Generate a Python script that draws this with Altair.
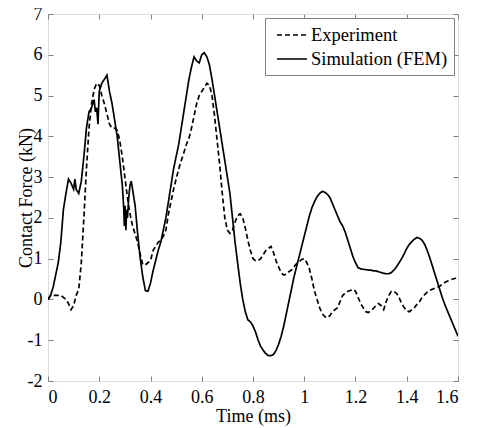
import altair as alt
import pandas as pd

# ---- data ----
sim_t = [0.00, 0.01, 0.02, 0.03, 0.04, 0.05, 0.06, 0.07, 0.08, 0.09, 0.10, 0.105, 0.11, 0.12, 0.13,
         0.14, 0.15, 0.16, 0.17, 0.18, 0.185, 0.19, 0.195, 0.20, 0.21, 0.22, 0.23, 0.24, 0.25, 0.26,
         0.27, 0.28, 0.29, 0.295, 0.298, 0.301, 0.304, 0.307, 0.31, 0.315, 0.32, 0.325, 0.33, 0.34,
         0.35, 0.36, 0.37, 0.38, 0.39, 0.40, 0.41, 0.42, 0.43, 0.44, 0.45, 0.46, 0.47, 0.48, 0.49,
         0.50, 0.51, 0.52, 0.53, 0.54, 0.55, 0.56, 0.57, 0.58, 0.59, 0.60, 0.61, 0.62, 0.63, 0.64,
         0.65, 0.66, 0.67, 0.68, 0.69, 0.70, 0.71, 0.72, 0.73, 0.74, 0.75, 0.76, 0.77, 0.78, 0.79,
         0.80, 0.81, 0.82, 0.83, 0.84, 0.85, 0.86, 0.87, 0.88, 0.89, 0.90, 0.91, 0.92, 0.93, 0.94,
         0.95, 0.96, 0.97, 0.98, 0.99, 1.00, 1.01, 1.02, 1.03, 1.04, 1.05, 1.06, 1.07, 1.08, 1.09,
         1.10, 1.11, 1.12, 1.13, 1.14, 1.15, 1.16, 1.17, 1.18, 1.19, 1.20, 1.21, 1.22, 1.23, 1.24,
         1.25, 1.26, 1.27, 1.28, 1.29, 1.30, 1.31, 1.32, 1.33, 1.34, 1.35, 1.36, 1.37, 1.38, 1.39,
         1.40, 1.41, 1.42, 1.43, 1.44, 1.45, 1.46, 1.47, 1.48, 1.49, 1.50, 1.51, 1.52, 1.53, 1.54,
         1.55, 1.56, 1.57, 1.58, 1.59, 1.60]
sim_f = [0.00, 0.10, 0.30, 0.60, 0.90, 1.40, 2.20, 2.60, 2.95, 2.85, 2.70, 2.95, 2.70, 2.60, 2.90,
         3.50, 4.20, 4.60, 4.70, 4.90, 4.60, 4.70, 4.30, 5.10, 5.30, 5.40, 5.50, 5.10, 4.80, 4.40,
         4.00, 3.40, 2.80, 2.30, 1.80, 2.30, 1.70, 2.20, 2.00, 2.50, 2.80, 2.90, 2.70, 2.30,
         1.60, 1.00, 0.55, 0.22, 0.20, 0.40, 0.70, 0.95, 1.20, 1.40, 1.70, 2.00, 2.40, 2.80, 3.20,
         3.50, 3.80, 4.20, 4.60, 5.00, 5.40, 5.70, 5.95, 5.85, 5.80, 6.00, 6.05, 5.95, 5.75, 5.40,
         5.00, 4.60, 4.20, 3.80, 3.40, 3.00, 2.60, 2.00, 1.40, 0.90, 0.40, 0.00, -0.30, -0.50, -0.55,
         -0.65, -0.80, -1.00, -1.15, -1.25, -1.33, -1.38, -1.38, -1.35, -1.25, -1.10, -0.90, -0.65, -0.35, -0.05,
         0.25, 0.55, 0.80, 1.05, 1.30, 1.55, 1.80, 2.05, 2.25, 2.40, 2.52, 2.60, 2.65, 2.63, 2.58,
         2.50, 2.35, 2.20, 2.05, 1.90, 1.80, 1.65, 1.45, 1.25, 1.05, 0.90, 0.78, 0.75, 0.74, 0.73,
         0.72, 0.72, 0.70, 0.70, 0.68, 0.66, 0.64, 0.63, 0.63, 0.66, 0.72, 0.80, 0.90, 1.00, 1.12,
         1.25, 1.35, 1.42, 1.48, 1.52, 1.50, 1.45, 1.35, 1.20, 1.02, 0.82, 0.62, 0.42, 0.22, 0.02,
         -0.15, -0.30, -0.45, -0.60, -0.75, -0.90]

exp_t = [0.00, 0.01, 0.02, 0.03, 0.04, 0.05, 0.06, 0.07, 0.08, 0.09, 0.10, 0.11, 0.12, 0.13, 0.14,
         0.15, 0.16, 0.17, 0.18, 0.19, 0.20, 0.21, 0.22, 0.23, 0.24, 0.25, 0.26, 0.27, 0.28, 0.29,
         0.30, 0.31, 0.32, 0.33, 0.34, 0.35, 0.36, 0.37, 0.38, 0.39, 0.40, 0.41, 0.42, 0.43, 0.44,
         0.45, 0.46, 0.47, 0.48, 0.49, 0.50, 0.51, 0.52, 0.53, 0.54, 0.55, 0.56, 0.57, 0.58, 0.59,
         0.60, 0.61, 0.62, 0.63, 0.64, 0.65, 0.66, 0.67, 0.68, 0.69, 0.70, 0.71, 0.72, 0.73, 0.74,
         0.75, 0.76, 0.77, 0.78, 0.79, 0.80, 0.81, 0.82, 0.83, 0.84, 0.85, 0.86, 0.87, 0.88, 0.89,
         0.90, 0.91, 0.92, 0.93, 0.94, 0.95, 0.96, 0.97, 0.98, 0.99, 1.00, 1.01, 1.02, 1.03, 1.04,
         1.05, 1.06, 1.07, 1.08, 1.09, 1.10, 1.11, 1.12, 1.13, 1.14, 1.15, 1.16, 1.17, 1.18, 1.19,
         1.20, 1.21, 1.22, 1.23, 1.24, 1.25, 1.26, 1.27, 1.28, 1.29, 1.30, 1.31, 1.32, 1.33, 1.34,
         1.35, 1.36, 1.37, 1.38, 1.39, 1.40, 1.41, 1.42, 1.43, 1.44, 1.45, 1.46, 1.47, 1.48, 1.49,
         1.50, 1.51, 1.52, 1.53, 1.54, 1.55, 1.56, 1.57, 1.58, 1.59, 1.60]
exp_f = [0.00, 0.10, 0.10, 0.10, 0.10, 0.10, 0.05, 0.00, -0.10, -0.25, -0.15, 0.10, 0.25, 0.90, 2.00,
         3.20, 4.20, 4.80, 5.15, 5.30, 5.25, 5.00, 4.80, 4.55, 4.30, 4.20, 4.20, 4.15, 3.90, 3.50,
         3.00, 2.50, 2.10, 1.80, 1.60, 1.40, 1.10, 0.85, 0.85, 0.90, 0.95, 1.20, 1.30, 1.40, 1.45,
         1.55, 1.70, 2.10, 2.40, 2.70, 2.95, 3.20, 3.40, 3.60, 3.80, 3.95, 4.20, 4.50, 4.80, 5.00,
         5.10, 5.20, 5.30, 5.25, 5.00, 4.50, 3.90, 3.30, 2.60, 2.00, 1.70, 1.62, 1.70, 1.90, 2.05,
         2.10, 2.00, 1.75, 1.45, 1.20, 1.00, 0.95, 0.95, 1.00, 1.10, 1.20, 1.25, 1.30, 1.15, 0.95,
         0.80, 0.65, 0.60, 0.62, 0.68, 0.72, 0.80, 0.88, 0.92, 0.98, 1.00, 0.90, 0.75, 0.50, 0.20,
         0.00, -0.20, -0.35, -0.42, -0.45, -0.40, -0.30, -0.25, -0.20, -0.05, 0.10, 0.15, 0.20, 0.22, 0.25,
         0.20, 0.05, -0.10, -0.20, -0.30, -0.32, -0.28, -0.22, -0.15, -0.10, -0.15, -0.25, -0.05, 0.10, 0.20,
         0.20, 0.15, 0.05, -0.10, -0.20, -0.28, -0.30, -0.25, -0.20, -0.12, -0.05, 0.05, 0.12, 0.18, 0.22,
         0.25, 0.28, 0.30, 0.33, 0.38, 0.42, 0.45, 0.48, 0.50, 0.52, 0.55]

series_names = ["Experiment", "Simulation (FEM)"]
x_ticks = [0, 0.2, 0.4, 0.6, 0.8, 1, 1.2, 1.4, 1.6]
y_ticks = [-2, -1, 0, 1, 2, 3, 4, 5, 6, 7]

df = pd.concat([
    pd.DataFrame({"t": exp_t, "f": exp_f, "series": series_names[0]}),
    pd.DataFrame({"t": sim_t, "f": sim_f, "series": series_names[1]}),
])

FONT = "Liberation Serif"
GRAY = "#808080"
xs = alt.Scale(domain=[0, 1.6], nice=False, zero=False)
ys = alt.Scale(domain=[-2, 7], nice=False, zero=False)

lines = alt.Chart(df).mark_line(color="black", strokeWidth=1.7, clip=True).encode(
    x=alt.X("t:Q", scale=xs, axis=alt.Axis(
        orient="bottom", values=x_ticks, labelExpr="'' + datum.value", grid=False, domain=False,
        offset=-5, tickSize=5, tickColor=GRAY, labelPadding=7, labelFontSize=18, labelFont=FONT,
        labelColor="black", title="Time (ms)", titleFont=FONT, titleFontSize=18, titleFontWeight="normal",
        titleColor="black", titleY=45, titleBaseline="alphabetic")),
    y=alt.Y("f:Q", scale=ys, axis=alt.Axis(
        orient="left", values=y_ticks, labelExpr="'' + datum.value", grid=False, domain=False,
        offset=-5, tickSize=5, tickColor=GRAY, labelPadding=6, labelFontSize=18, labelFont=FONT,
        labelColor="black", labelBaseline="middle", title="Contact Force (kN)",
        titleFont=FONT, titleFontSize=18, titleFontWeight="normal", titleColor="black", titleX=-27,
        titleBaseline="middle")),
    strokeDash=alt.StrokeDash("series:N", scale=alt.Scale(domain=series_names, range=[[5, 3], [1, 0]]),
                              legend=alt.Legend(title=None, orient="top-right", offset=4,
                                                symbolType="M-1.5,0H1.5", symbolStrokeColor="black",
                                                symbolStrokeWidth=1.7, symbolSize=400, symbolOffset=10,
                                                labelFont=FONT, labelFontSize=18.5, labelColor="black",
                                                strokeColor=GRAY, fillColor="white", padding=6,
                                                rowPadding=3, labelOffset=8)),
)

ticks2 = alt.Chart(df).mark_line(opacity=0).encode(
    x=alt.X("t:Q", scale=xs, axis=alt.Axis(
        orient="top", values=x_ticks, labels=False, grid=False, domain=False, offset=-5, tickSize=5,
        tickColor=GRAY, title=None)),
    y=alt.Y("f:Q", scale=ys, axis=alt.Axis(
        orient="right", values=y_ticks, labels=False, grid=False, domain=False, offset=-5, tickSize=5,
        tickColor=GRAY, title=None)),
)

chart = alt.layer(lines, ticks2).resolve_axis(x="independent", y="independent").properties(
    width=410, height=367, autosize=alt.AutoSizeParams(type="none"),
    padding={"left": 40, "top": 6, "right": 20, "bottom": 47},
).configure_view(stroke=GRAY, strokeWidth=1.2).configure(background="white")

chart.save("out.html", embed_options={"renderer": "svg", "actions": False})
